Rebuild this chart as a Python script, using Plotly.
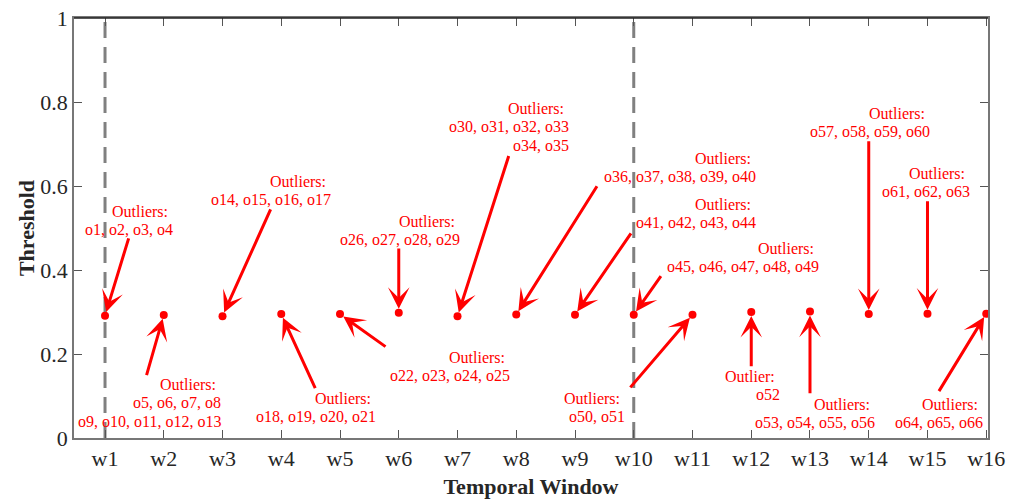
import plotly.graph_objects as go

# Threshold per temporal window
windows = [f"w{i}" for i in range(1, 17)]
window_pos = list(range(1, 17))
thresholds = [0.291, 0.293, 0.290, 0.295, 0.295, 0.298, 0.290, 0.294,
              0.2935, 0.2935, 0.2935, 0.300, 0.301, 0.295, 0.296, 0.296]

# Windows marked with a vertical dashed line
marked_windows = [1, 10]

# Outlier callouts: arrow tail (data coords) pointing at each window's point
tail_x = [1.41, 1.70, 3.83, 4.59, 5.80, 6.0, 7.88, 9.39,
          9.97, 10.48, 9.92, 12.0, 13.0, 14.0, 15.0, 15.18]
tail_y = [0.479, 0.146, 0.548, 0.115, 0.215, 0.455, 0.675, 0.603,
          0.491, 0.389, 0.117, 0.167, 0.103, 0.710, 0.567, 0.108]

# Callout texts: right edge x, first-line centre y, and lines
label_x = [2.19, 3.01, 4.88, 5.65, 7.93, 7.08, 8.93, 12.12,
           12.12, 13.19, 9.89, 12.52, 14.14, 15.08, 15.76, 15.98]
label_y = [0.540, 0.128, 0.611, 0.095, 0.192, 0.516, 0.785, 0.666,
           0.557, 0.452, 0.095, 0.147, 0.080, 0.773, 0.630, 0.080]
label_lines = [
    ["Outliers:", "o1, o2, o3, o4"],
    ["Outliers:", "o5, o6, o7, o8", "o9, o10, o11, o12, o13"],
    ["Outliers:", "o14, o15, o16, o17"],
    ["Outliers:", "o18, o19, o20, o21"],
    ["Outliers:", "o22, o23, o24, o25"],
    ["Outliers:", "o26, o27, o28, o29"],
    ["Outliers:", "o30, o31, o32, o33", "o34, o35"],
    ["Outliers:", "o36, o37, o38, o39, o40"],
    ["Outliers:", "o41, o42, o43, o44"],
    ["Outliers:", "o45, o46, o47, o48, o49"],
    ["Outliers:", "o50, o51"],
    ["Outlier:", "o52"],
    ["Outliers:", "o53, o54, o55, o56"],
    ["Outliers:", "o57, o58, o59, o60"],
    ["Outliers:", "o61, o62, o63"],
    ["Outliers:", "o64, o65, o66"],
]

FONT = "Liberation Serif, Times New Roman, serif"
RED = "#FF0000"
AXIS = "#262626"

fig = go.Figure()

for wx in marked_windows:
    fig.add_shape(type="line", xref="x", yref="y", x0=wx, x1=wx, y0=0, y1=1,
                  line=dict(color="#808080", width=3, dash="16px,9px"),
                  layer="below")

fig.add_trace(go.Scatter(
    x=window_pos, y=thresholds, mode="markers",
    marker=dict(color=RED, size=8, line=dict(width=0)),
    showlegend=False, hoverinfo="skip"))

annotations = []
for i, (px, py) in enumerate(zip(window_pos, thresholds)):
    annotations.append(dict(
        x=px, y=py, xref="x", yref="y",
        ax=tail_x[i], ay=tail_y[i], axref="x", ayref="y",
        text="", showarrow=True, arrowhead=3, arrowsize=1.2,
        arrowwidth=3, arrowcolor=RED, standoff=4))
    for j, line in enumerate(label_lines[i]):
        annotations.append(dict(
            x=label_x[i], y=label_y[i], xref="x", yref="y",
            text=line, showarrow=False, xanchor="right", yanchor="middle",
            yshift=-18.5 * j, xshift=-5 if j == 0 else 0,
            font=dict(family=FONT, size=16, color=RED)))

fig.update_layout(
    width=1010, height=499,
    margin=dict(l=74, r=22, t=18, b=61, autoexpand=False),
    paper_bgcolor="white", plot_bgcolor="white",
    font=dict(family=FONT, color=AXIS),
    annotations=annotations,
    xaxis=dict(
        range=[0.472, 16.03], tickmode="array", tickvals=window_pos,
        ticktext=windows, ticks="inside", ticklen=8, tickwidth=1,
        tickcolor="#555555", showline=True, linecolor="#777777",
        linewidth=1.5, mirror="ticks", showgrid=False, zeroline=False,
        automargin=False,
        tickfont=dict(family=FONT, size=22, color=AXIS),
        title=dict(text="<b>Temporal Window</b>", standoff=10,
                   font=dict(family=FONT, size=22, color=AXIS))),
    yaxis=dict(
        range=[0, 1], tickmode="array", tickvals=[0, 0.2, 0.4, 0.6, 0.8, 1],
        ticktext=["0", "0.2", "0.4", "0.6", "0.8", "1"],
        ticks="inside", ticklen=8, tickwidth=1, tickcolor="#555555",
        showline=True, linecolor="#777777", linewidth=1.5, mirror="ticks",
        showgrid=False, zeroline=False, automargin=False,
        tickfont=dict(family=FONT, size=22, color=AXIS),
        title=dict(text="<b>Threshold</b>", standoff=0,
                   font=dict(family=FONT, size=22, color=AXIS))),
)

# darker top edge of the axes box
fig.add_shape(type="line", xref="paper", yref="paper", x0=0, x1=1, y0=1, y1=1,
              line=dict(color="#222222", width=1.5))

fig.write_html("out.html")
